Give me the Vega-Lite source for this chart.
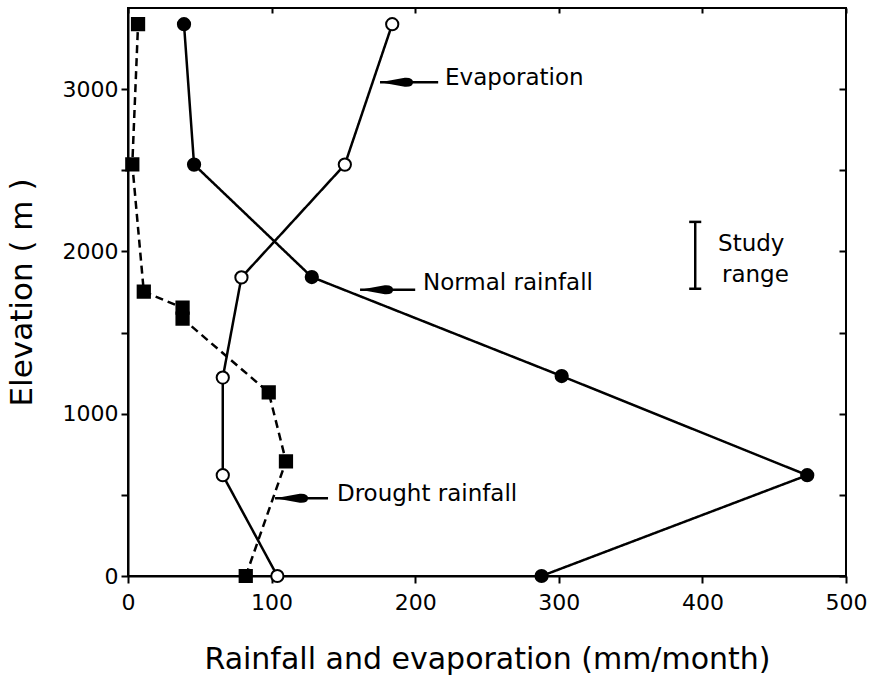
{
  "$schema": "https://vega.github.io/schema/vega-lite/v6.json",
  "width": 718,
  "height": 568,
  "autosize": {"type": "none"},
  "padding": {"left": 128, "top": 8, "right": 25, "bottom": 107},
  "background": "white",
  "config": {
    "view": {"stroke": "black", "strokeWidth": 2},
    "font": "DejaVu Sans",
    "axis": {
      "grid": false,
      "domainColor": "black",
      "domainWidth": 2,
      "tickColor": "black",
      "tickWidth": 2,
      "labelColor": "black",
      "titleColor": "black",
      "labelFont": "DejaVu Sans",
      "titleFont": "DejaVu Sans",
      "labelFontSize": 22,
      "titleFontWeight": "normal",
      "labelOverlap": false,
      "labelFlush": false,
      "labelBound": false
    }
  },
  "datasets": {
    "series": [
      {"s": "Normal", "x": 39, "y": 3400},
      {"s": "Normal", "x": 46, "y": 2535},
      {"s": "Normal", "x": 128, "y": 1842},
      {"s": "Normal", "x": 302, "y": 1232},
      {"s": "Normal", "x": 473, "y": 621},
      {"s": "Normal", "x": 288, "y": 0},
      {"s": "Evaporation", "x": 184, "y": 3400},
      {"s": "Evaporation", "x": 151, "y": 2535},
      {"s": "Evaporation", "x": 79, "y": 1840},
      {"s": "Evaporation", "x": 66, "y": 1223},
      {"s": "Evaporation", "x": 66, "y": 621},
      {"s": "Evaporation", "x": 104, "y": 0},
      {"s": "Drought", "x": 7, "y": 3400},
      {"s": "Drought", "x": 3, "y": 2537},
      {"s": "Drought", "x": 11, "y": 1752},
      {"s": "Drought", "x": 38, "y": 1653},
      {"s": "Drought", "x": 38, "y": 1586},
      {"s": "Drought", "x": 98, "y": 1131},
      {"s": "Drought", "x": 110, "y": 707},
      {"s": "Drought", "x": 82, "y": 0}
    ],
    "rules": [
      {"x": 175.5, "x2": 216, "y": 3042, "y2": 3042},
      {"x": 161.6, "x2": 200, "y": 1764, "y2": 1764},
      {"x": 102.4, "x2": 139.3, "y": 479, "y2": 479},
      {"x": 395, "x2": 395, "y": 1770, "y2": 2182},
      {"x": 390.8, "x2": 399.2, "y": 2182, "y2": 2182},
      {"x": 390.8, "x2": 399.2, "y": 1770, "y2": 1770}
    ],
    "heads": [
      {"x": 175.5, "y": 3042},
      {"x": 161.6, "y": 1764},
      {"x": 102.4, "y": 479}
    ],
    "labels": [
      {"x": 220.8, "y": 3070, "label": "Evaporation"},
      {"x": 205.4, "y": 1804, "label": "Normal rainfall"},
      {"x": 145.5, "y": 507, "label": "Drought rainfall"},
      {"x": 410.9, "y": 2047, "label": "Study"},
      {"x": 413.6, "y": 1856, "label": "range"}
    ],
    "frame": [{"x": 0, "y": 0}]
  },
  "layer": [
    {
      "layer": [
        {
          "data": {"name": "series"},
          "mark": {"type": "line", "color": "black", "strokeWidth": 2.5},
          "encoding": {
            "x": {
              "field": "x", "type": "quantitative",
              "scale": {"domain": [0, 500], "nice": false, "zero": false},
              "axis": {
                "orient": "bottom",
                "values": [0, 100, 200, 300, 400, 500],
                "format": "d",
                "tickSize": 7,
                "labelFontSize": 22,
                "labelPadding": 9,
                "title": "Rainfall and evaporation (mm/month)",
                "titleFontSize": 30,
                "titlePadding": 31
              }
            },
            "y": {
              "field": "y", "type": "quantitative",
              "scale": {"domain": [0, 3500], "nice": false, "zero": false},
              "axis": {
                "orient": "left",
                "values": [0, 500, 1000, 1500, 2000, 2500, 3000],
                "format": "d",
                "labelExpr": "datum.value % 1000 == 0 ? datum.label : ''",
                "tickSize": 7,
                "labelFontSize": 22,
                "labelPadding": 3,
                "title": "Elevation ( m )",
                "titleFontSize": 31,
                "titlePadding": 24
              }
            },
            "detail": {"field": "s"},
            "strokeDash": {
              "field": "s", "type": "nominal",
              "scale": {"domain": ["Normal", "Evaporation", "Drought"], "range": [[1, 0], [1, 0], [8, 5]]},
              "legend": null
            },
            "order": {"field": "y", "type": "quantitative"}
          }
        },
        {
          "data": {"name": "rules"},
          "mark": {"type": "rule", "color": "black", "strokeWidth": 2.5},
          "encoding": {
            "x": {"field": "x", "type": "quantitative"},
            "x2": {"field": "x2"},
            "y": {"field": "y", "type": "quantitative"},
            "y2": {"field": "y2"}
          }
        },
        {
          "data": {"name": "heads"},
          "mark": {
            "type": "point",
            "shape": "M0,0L1.5,-0.27Q2,-0.3,2,0Q2,0.3,1.5,0.27Z",
            "size": 1089,
            "filled": true,
            "color": "black",
            "opacity": 1
          },
          "encoding": {
            "x": {"field": "x", "type": "quantitative"},
            "y": {"field": "y", "type": "quantitative"}
          }
        },
        {
          "data": {"name": "series"},
          "mark": {"type": "point", "stroke": "black", "strokeWidth": 2, "opacity": 1, "fillOpacity": 1},
          "encoding": {
            "x": {"field": "x", "type": "quantitative"},
            "y": {"field": "y", "type": "quantitative"},
            "shape": {
              "field": "s", "type": "nominal",
              "scale": {"domain": ["Normal", "Evaporation", "Drought"], "range": ["circle", "circle", "square"]},
              "legend": null
            },
            "size": {
              "field": "s", "type": "nominal",
              "scale": {"domain": ["Normal", "Evaporation", "Drought"], "range": [150, 150, 110]},
              "legend": null
            },
            "fill": {
              "field": "s", "type": "nominal",
              "scale": {"domain": ["Normal", "Evaporation", "Drought"], "range": ["black", "white", "black"]},
              "legend": null
            }
          }
        },
        {
          "data": {"name": "labels"},
          "mark": {"type": "text", "align": "left", "baseline": "middle", "fontSize": 23, "color": "black", "font": "DejaVu Sans"},
          "encoding": {
            "x": {"field": "x", "type": "quantitative"},
            "y": {"field": "y", "type": "quantitative"},
            "text": {"field": "label"}
          }
        }
      ]
    },
    {
      "data": {"name": "frame"},
      "mark": {"type": "point", "opacity": 0},
      "encoding": {
        "x": {
          "field": "x", "type": "quantitative",
          "axis": {"orient": "top", "values": [0, 100, 200, 300, 400, 500], "labels": false, "tickSize": -5, "domain": false, "title": null}
        },
        "y": {
          "field": "y", "type": "quantitative",
          "axis": {"orient": "right", "values": [0, 500, 1000, 1500, 2000, 2500, 3000], "labels": false, "tickSize": -7, "domain": false, "title": null}
        }
      }
    }
  ],
  "resolve": {"axis": {"x": "independent", "y": "independent"}}
}
